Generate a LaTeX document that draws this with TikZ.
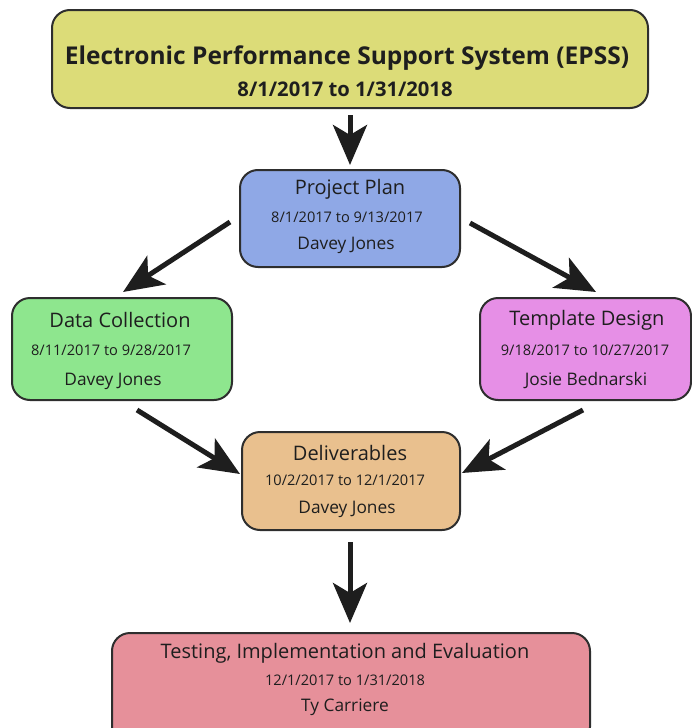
\documentclass[tikz,border=0pt]{standalone}
\usepackage{fontspec}
\setmainfont{Open Sans}
\usetikzlibrary{arrows.meta}

\definecolor{epssyellow}{HTML}{DCDC78}
\definecolor{planblue}{HTML}{8FA8E6}
\definecolor{datagreen}{HTML}{8EE68E}
\definecolor{designpink}{HTML}{E68FE6}
\definecolor{delivtan}{HTML}{E9C08E}
\definecolor{testrose}{HTML}{E6909A}
\definecolor{edgegray}{HTML}{2E2E2E}
\definecolor{inkdark}{HTML}{1E1E1E}

\tikzset{
  stagebox/.style={draw=edgegray, line width=2pt, rounded corners=18pt},
  stagetitle/.style={font=\fontsize{20}{23}\selectfont, text=inkdark, inner sep=0pt},
  stagedate/.style={font=\fontsize{14.6}{17}\selectfont, text=inkdark, inner sep=0pt},
  stageowner/.style={font=\fontsize{17.3}{20}\selectfont, text=inkdark, inner sep=0pt},
  flow/.style={draw=inkdark, line width=5pt,
    -{Stealth[length=40pt, width=34pt, inset=10pt]}, shorten >=0pt},
}

\begin{document}
\begin{tikzpicture}[x=1pt, y=-1pt]
  \useasboundingbox (0,0) rectangle (692,728);

  % boxes
  \draw[stagebox, fill=epssyellow] (52,10) rectangle (648,108);
  \node (epss) at (350,59) {};
  \draw[stagebox, fill=planblue] (240,170) rectangle (460,267);
  \node (plan) at (350,218) {};
  \draw[stagebox, fill=datagreen] (12,298) rectangle (232,400);
  \node (data) at (122,349) {};
  \draw[stagebox, fill=designpink] (480,298) rectangle (691,400);
  \node (design) at (585,349) {};
  \draw[stagebox, fill=delivtan] (242,432) rectangle (460,530);
  \node (deliv) at (351,481) {};
  \draw[stagebox, fill=testrose] (112,633) rectangle (590,745);
  \node (test) at (351,680) {};

  % texts
  \node[font=\fontsize{24.5}{28}\selectfont\bfseries, text=inkdark, inner sep=0pt]
    (epssT) at (347,58) {Electronic Performance Support System (EPSS)};
  \node[font=\fontsize{20.2}{23}\selectfont\bfseries, text=inkdark, inner sep=0pt]
    (epssD) at (345,89) {8/1/2017 to 1/31/2018};

  \node[stagetitle] (planT) at (350,189) {Project Plan};
  \node[stagedate] (planD) at (347,217) {8/1/2017 to 9/13/2017};
  \node[stageowner] (planO) at (346,245) {Davey Jones};

  \node[stagetitle] (dataT) at (120,320) {Data Collection};
  \node[stagedate] (dataD) at (111,350) {8/11/2017 to 9/28/2017};
  \node[stageowner] (dataO) at (113,381) {Davey Jones};

  \node[stagetitle] (designT) at (587,320) {Template Design};
  \node[stagedate] (designD) at (585,350) {9/18/2017 to 10/27/2017};
  \node[stageowner] (designO) at (586,381) {Josie Bednarski};

  \node[stagetitle] (delivT) at (350,453) {Deliverables};
  \node[stagedate] (delivD) at (345,480) {10/2/2017 to 12/1/2017};
  \node[stageowner] (delivO) at (347,509) {Davey Jones};

  \node[stagetitle] (testT) at (345,653) {Testing, Implementation and Evaluation};
  \node[stagedate] (testD) at (345,680) {12/1/2017 to 1/31/2018};
  \node[stageowner] (testO) at (345,707) {Ty Carriere};

  % connector end points
  \coordinate (a1s) at (350,115);  \coordinate (a1e) at (350,165);
  \coordinate (a2s) at (230,222);  \coordinate (a2e) at (123,292);
  \coordinate (a3s) at (470,223);  \coordinate (a3e) at (596,292);
  \coordinate (a4s) at (137,410);  \coordinate (a4e) at (240,474);
  \coordinate (a5s) at (583,410);  \coordinate (a5e) at (462,473);
  \coordinate (a6s) at (350,542);  \coordinate (a6e) at (350,623);

  \draw[flow] (a1s) -- (a1e);
  \draw[flow] (a2s) -- (a2e);
  \draw[flow] (a3s) -- (a3e);
  \draw[flow] (a4s) -- (a4e);
  \draw[flow] (a5s) -- (a5e);
  \draw[flow] (a6s) -- (a6e);
\end{tikzpicture}
\end{document}
